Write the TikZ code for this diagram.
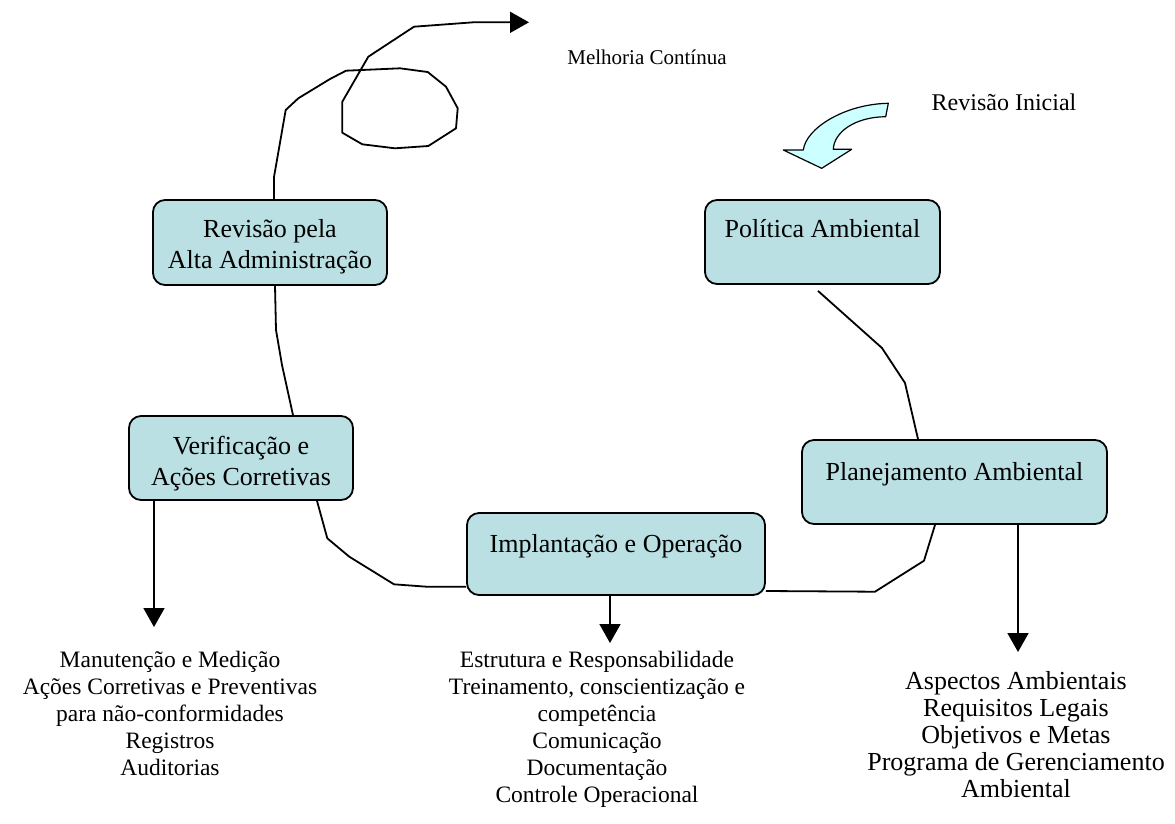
\documentclass[tikz,border=0pt]{standalone}
\usepackage{fontspec}
\setmainfont{Liberation Serif}
\usetikzlibrary{arrows.meta,calc}
\definecolor{boxfill}{RGB}{186,224,227}
\definecolor{arrowfill}{RGB}{204,255,255}
\begin{document}
\begin{tikzpicture}[x=1pt,y=-1pt,
  box/.style={draw, line width=1.8pt, rounded corners=12pt, fill=boxfill, inner sep=0pt},
  boxtext/.style={font=\fontsize{26}{31}\selectfont, anchor=base, inner sep=0pt, align=center},
  listtext/.style={font=\fontsize{23.5}{27}\selectfont, anchor=base, inner sep=0pt, align=center},
  conn/.style={line width=1.8pt, line join=round},
  arr/.style={conn, -{Triangle[length=19pt,width=21pt]}}]
\useasboundingbox (0,0) rectangle (1175,823);

% boxes
\node[box, minimum width=234pt, minimum height=85pt] (rev) at (270,242.5) {};
\node[box, minimum width=235pt, minimum height=84pt] (pol) at (822.5,242) {};
\node[box, minimum width=224pt, minimum height=84pt] (ver) at (241,458) {};
\node[box, minimum width=305pt, minimum height=84pt] (pla) at (954.5,482) {};
\node[box, minimum width=298pt, minimum height=82pt] (imp) at (616,554) {};

% box texts (base = last line)
\node[boxtext] (revt) at (270,268) {Revisão pela\\Alta Administração};
\node[boxtext] (polt) at (822.5,237) {Política Ambiental};
\node[boxtext] (vert) at (241,485) {Verificação e\\Ações Corretivas};
\node[boxtext] (plat) at (954.5,480) {Planejamento Ambiental};
\node[boxtext] (impt) at (616,552) {Implantação e Operação};

% labels
\node[listtext, font=\fontsize{21}{24}\selectfont] (melh) at (647,64) {Melhoria Contínua};
\node[listtext, font=\fontsize{24}{27}\selectfont] (revi) at (1004,110) {Revisão Inicial};

% lists (base = last line)
\node[listtext] (lvl) at (170,775) {Manutenção e Medição\\Ações Corretivas e Preventivas\\para não-conformidades\\Registros\\Auditorias};
\node[listtext] (limp) at (597,802) {Estrutura e Responsabilidade\\Treinamento, conscientização e\\competência\\Comunicação\\Documentação\\Controle Operacional};
\node[listtext, font=\fontsize{26}{27}\selectfont] (lpla) at (1016,797) {Aspectos Ambientais\\Requisitos Legais\\Objetivos e Metas\\Programa de Gerenciamento\\Ambiental};

% arrow ends
\coordinate (mcend) at (529,22.3);
\coordinate (verend) at (154,627);
\coordinate (impend) at (610,643);
\coordinate (plaend) at (1018,652);

% spiral
\draw[arr] (rev.north -| 274,0) -- (274,177) -- (285.7,110) -- (298.3,98.3) -- (330,79) -- (346,70.7) -- (400,68.3) -- (427.7,72) -- (446,86.7) -- (457.7,108.3) -- (456,128.3) -- (428.3,146) -- (395,148.3) -- (362.3,144.3) -- (342.3,132.7) -- (342.3,101.7) -- (368.3,56.7) -- (414,26.7) -- (473.3,22.3) -- (mcend);

% cycle connectors
\draw[conn] (rev.south -| 275,0) -- (276,330) -- (282,365) -- (ver.north -| 293,0);
\draw[conn] (ver.south -| 317,0) -- (327.3,538.3) -- (349.3,556.7) -- (394,584.3) -- (426.7,586.7) -- (imp.west |- 0,586.7);
\draw[conn] (imp.east |- 0,591) -- (875,591.7) -- (924,560.7) -- (pla.south -| 935,0);
\draw[conn] ($(pol.south -| 818,0)+(0,6)$) -- (882,348) -- (905,383) -- (pla.north -| 918,0);

% down arrows
\draw[arr] (ver.south -| 154,0) -- (verend);
\draw[arr] (imp.south -| 610,0) -- (impend);
\draw[arr] (pla.south -| 1018,0) -- (plaend);

% curved block arrow
\draw[line width=1.2pt, fill=arrowfill, line join=round] (888.3,103.3) .. controls (845,104) and (806,128) .. (803.3,150) -- (783.3,150) -- (821.7,168.3) -- (851.7,149.3) -- (833.3,149.3) .. controls (834,132) and (855,117) .. (885.7,116.7) -- cycle;
\end{tikzpicture}
\end{document}
